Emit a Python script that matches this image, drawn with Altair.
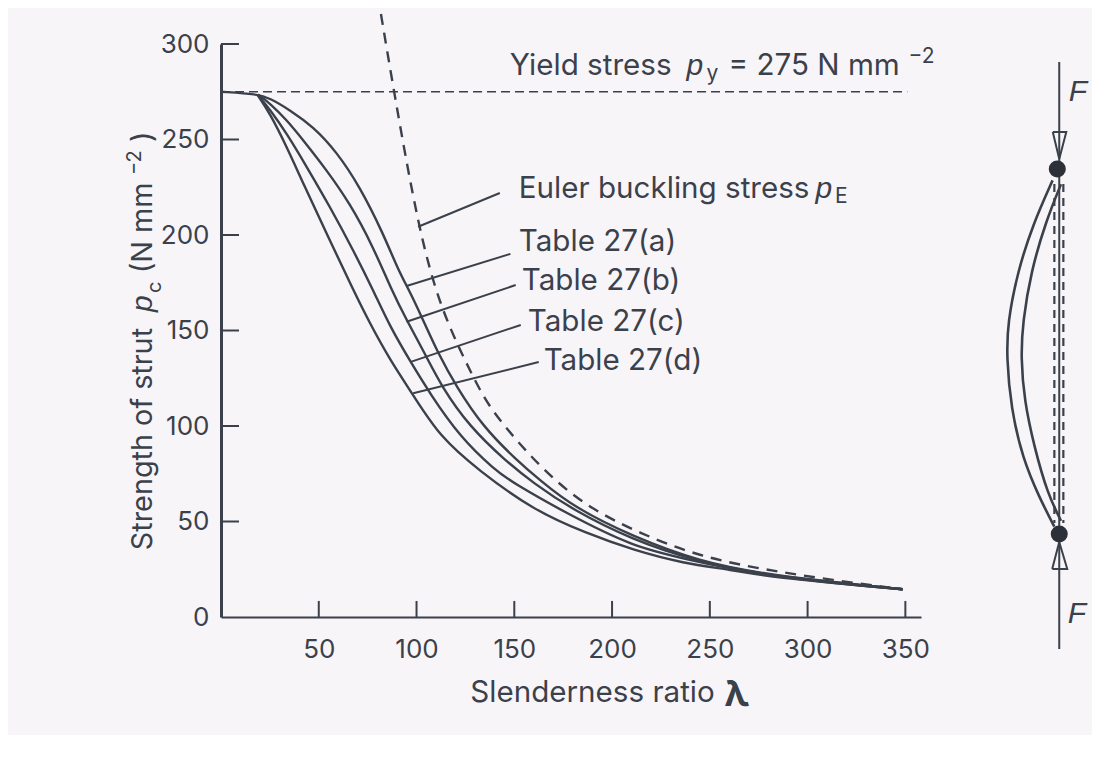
import altair as alt
import pandas as pd

INK = "#3b414b"
PAPER = "#f8f5f9"
FONT = "Inter"
IT_FONT = "Liberation Sans"

# Curves (slenderness, strength)
a_x = [0, 18.9, 25, 35.3, 47.2, 59.1, 71, 82.9, 90.6, 96.6, 102.6, 111, 120.4, 134, 151.1, 163, 180, 210.7, 244.8, 278.8, 348.6]
a_y = [275, 273.8, 271.6, 265.4, 256.7, 243.6, 225.3, 200.9, 181.7, 170.3, 157.2, 138.1, 120.6, 99.6, 82.2, 71.7, 57.7, 42, 29, 22, 14.5]
b_x = [18.9, 25, 33.6, 42, 54, 65.9, 77.8, 87.2, 94.9, 104.2, 112.8, 127.2, 145.1, 159.6, 180, 210.7, 241.3, 278.8, 348.6]
b_y = [273.6, 269, 260.2, 249.7, 234, 216.6, 193.9, 171.2, 155.5, 138.1, 120.6, 99.6, 82.2, 70.2, 56, 40.3, 29.8, 21.5, 14.5]
c_x = [18.9, 25, 33.6, 43.8, 55.7, 67.6, 77.8, 86.4, 97.4, 106.8, 122.1, 140, 149.4, 176.6, 210.7, 236.2, 278.8, 348.6]
c_y = [273.3, 265.8, 253.2, 235.8, 214.8, 192.1, 171.2, 152, 132.8, 117.1, 94.4, 77, 70.2, 54.3, 36.8, 30.7, 21.1, 14.5]
d_x = [18.9, 25, 33.6, 42, 54, 67.6, 76.1, 86.4, 98.3, 111.9, 131.5, 159.6, 186.9, 210.7, 236.2, 261.8, 278.8, 348.6]
d_y = [273, 263.7, 246.2, 227.1, 200.9, 171.2, 153.8, 134.6, 116.2, 94.4, 77, 56, 43.8, 35.1, 28.1, 24.6, 21.1, 14.5]
euler_x = [81.8, 88.9, 100.8, 111.9, 125.5, 134.9, 145.1, 164.5, 186.9, 214.1, 244.8, 278.8, 312.7, 348.5]
euler_y = [315.7, 272.4, 204.3, 162.5, 132.8, 113.6, 99.6, 77, 57.7, 43.8, 31.6, 24.6, 19.4, 14.5]
yield_x = [0, 351]
yield_y = [275, 275]

# Leader lines
lead_x = [100.8, 142.6, 94.9, 148, 94.9, 150.7, 97.4, 153.3, 98.3, 162.5]
lead_y = [204.3, 222, 173.3, 190.1, 154.6, 173.8, 133.7, 152.9, 117.1, 133.5]
lead_id = ["e", "e", "a", "a", "b", "b", "c", "c", "d", "d"]

# Axis ticks
x_ticks = [50, 100, 150, 200, 250, 300, 350]
y_ticks = [50, 100, 150, 200, 250, 300]
x_tick_len = 8.4
y_tick_len = 9.2

# Strut sketch
outer_x = [425.3, 415.1, 407.4, 402.3, 401.8, 404, 410, 418.5, 426.2]
outer_y = [228.6, 205.2, 180.7, 154.2, 135.9, 109.4, 82.9, 62.6, 47.3]
inner_x = [429.6, 421.9, 414.2, 410, 409.1, 410.8, 415.9, 422.7, 429.6]
inner_y = [226.6, 207.2, 180.7, 154.2, 135.9, 113.5, 89.1, 64.6, 50.4]
force_x = [428.7, 428.7]
force_y = [290.6, -16.8]
dash1_x = [426.2, 426.2]
dash2_x = [430.8, 430.8]
dash_y = [226.7, 49.2]
head1_x = [425.4, 432.3, 428.7, 425.4]
head1_y = [253.9, 253.9, 239.8, 253.9]
head2_x = [425.1, 432.8, 428.7, 425.1]
head2_y = [25.1, 25.1, 39.3, 25.1]
ball_x = [427.7, 428.7]
ball_y = [234.6, 43.5]

# Text
roman_text = ["Yield stress", "= 275 N mm", "Euler buckling stress", "Table 27(a)", "Table 27(b)", "Table 27(c)", "Table 27(d)"]
roman_x = [147.7, 259.6, 152.3, 152.3, 153.8, 156.9, 165]
roman_y = [288.5, 288.5, 224.1, 196.3, 175.9, 154.5, 134]
italic_text = ["p", "p", "F", "F"]
italic_x = [238.1, 304, 433.5, 433]
italic_y = [275 + 13.5, 224.1, 275, 1.5]
small_text = ["y", "E", "\u22122"]
small_x = [248.3, 314, 351.6]
small_y = [284.3, 219.9, 293.2]
lambda_text = ["\u03bb"]
lambda_x = [257.5]
lambda_y = [-40.8]

rot_text = ["Strength of strut", "(N mm", ")"]
rot_x = [-40, -40, -40]
rot_y = [35, 180, 248.7]
rot_it_text = ["p"]
rot_it_x = [-40]
rot_it_y = [159.7]
rot_small_text = ["c", "\u22122"]
rot_small_x = [-34, -44]
rot_small_y = [169.6, 231.4]

X_MAX = 358
Y_MAX = 300
xs = alt.Scale(domain=[0, X_MAX], nice=False, zero=False)
ys = alt.Scale(domain=[0, Y_MAX], nice=False, zero=False)

x_axis = alt.Axis(values=x_ticks, tickSize=0, grid=False, domainColor=INK, domainWidth=2,
                  labelColor=INK, labelFont=FONT, labelFontSize=26, labelPadding=19,
                  title="Slenderness ratio", titleColor=INK, titleFont=FONT,
                  titleFontSize=29.6, titleFontWeight="normal", titlePadding=16, titleX=371)
y_axis = alt.Axis(values=[0] + y_ticks, tickSize=0, grid=False, domainColor=INK, domainWidth=3,
                  labelColor=INK, labelFont=FONT, labelFontSize=26, labelPadding=12, title=None)
X = alt.X("x:Q", scale=xs, axis=x_axis)
Y = alt.Y("y:Q", scale=ys, axis=y_axis)


def series(name, x, y):
    return pd.DataFrame({"s": name, "x": x, "y": y, "i": range(len(x))})


curves = pd.concat([series("a", a_x, a_y), series("b", b_x, b_y), series("c", c_x, c_y), series("d", d_x, d_y)])

base_curves = alt.Chart(curves).mark_line(color=INK, strokeWidth=2.4, interpolate="basis").encode(
    x=X, y=Y, detail="s:N", order="i:Q")

euler = alt.Chart(series("euler", euler_x, euler_y)).mark_line(
    color=INK, strokeWidth=2.4, strokeDash=[11, 8], interpolate="basis").encode(x=X, y=Y, order="i:Q")
yield_line = alt.Chart(series("yield", yield_x, yield_y)).mark_line(
    color=INK, strokeWidth=1.7, strokeDash=[9, 5]).encode(x=X, y=Y, order="i:Q")
leaders = alt.Chart(pd.DataFrame({"x": lead_x, "y": lead_y, "s": lead_id})).mark_line(
    color=INK, strokeWidth=2).encode(x=X, y=Y, detail="s:N")

x_tick_df = pd.DataFrame({"x": x_ticks, "y": [0] * len(x_ticks), "y2": [x_tick_len] * len(x_ticks)})
y_tick_df = pd.DataFrame({"y": y_ticks, "x": [0] * len(y_ticks), "x2": [y_tick_len] * len(y_ticks)})
x_tick_marks = alt.Chart(x_tick_df).mark_rule(color=INK, strokeWidth=2).encode(x=X, y=Y, y2="y2:Q")
y_tick_marks = alt.Chart(y_tick_df).mark_rule(color=INK, strokeWidth=2).encode(x=X, x2="x2:Q", y=Y)

arcs_df = pd.concat([series("outer", outer_x, outer_y), series("inner", inner_x, inner_y)])
arcs = alt.Chart(arcs_df).mark_line(color=INK, strokeWidth=2.6, interpolate="basis").encode(
    x=X, y=Y, detail="s:N", order="i:Q")
force = alt.Chart(series("force", force_x, force_y)).mark_line(color=INK, strokeWidth=2).encode(
    x=X, y=Y, order="i:Q")
dashes_df = pd.concat([series("d1", dash1_x, dash_y), series("d2", dash2_x, dash_y)])
dashes = alt.Chart(dashes_df).mark_line(color=INK, strokeWidth=2.2, strokeDash=[8, 6]).encode(
    x=X, y=Y, detail="s:N", order="i:Q")
heads_df = pd.concat([series("h1", head1_x, head1_y), series("h2", head2_x, head2_y)])
heads = alt.Chart(heads_df).mark_line(color=INK, strokeWidth=2).encode(
    x=X, y=Y, detail="s:N", order="i:Q")
balls = alt.Chart(pd.DataFrame({"x": ball_x, "y": ball_y})).mark_point(
    filled=True, color="#2c3038", opacity=1, size=290).encode(x=X, y=Y)


def texts(t, x, y, size, style="normal", angle=0, font=FONT, weight="normal"):
    df = pd.DataFrame({"t": t, "x": x, "y": y})
    return alt.Chart(df).mark_text(align="left", baseline="middle", font=font, fontSize=size,
                                   fontStyle=style, fontWeight=weight, color=INK,
                                   angle=angle).encode(x=X, y=Y, text="t:N")


chart = alt.layer(
    base_curves, euler, yield_line, leaders, x_tick_marks, y_tick_marks,
    arcs, force, dashes, heads, balls,
    texts(roman_text, roman_x, roman_y, 29.6),
    texts(italic_text, italic_x, italic_y, 30, "italic", font=IT_FONT),
    texts(small_text, small_x, small_y, 21),
    texts(lambda_text, lambda_x, lambda_y, 36, weight="bold"),
    texts(rot_text, rot_x, rot_y, 28.8, angle=270),
    texts(rot_it_text, rot_it_x, rot_it_y, 30, "italic", angle=270, font=IT_FONT),
    texts(rot_small_text, rot_small_x, rot_small_y, 20, angle=270),
).properties(
    width=700, height=573, background=PAPER,
    padding={"left": 213, "top": 36, "right": 171, "bottom": 118},
    autosize=alt.AutoSizeParams(type="none"),
).configure_view(stroke=None)

chart.save("out.html", embed_options={"renderer": "svg", "actions": False})
